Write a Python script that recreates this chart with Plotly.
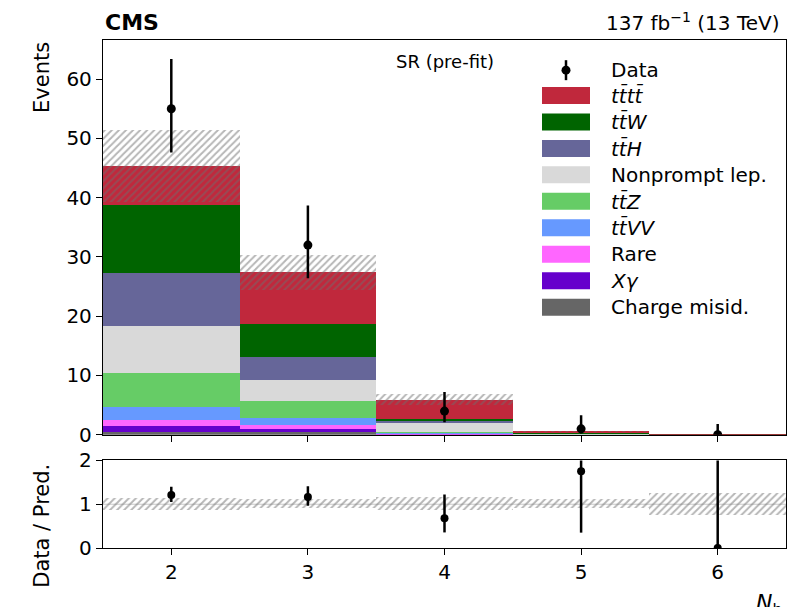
import plotly.graph_objects as go
import numpy as np

# ---------------- data ----------------
nb = [2, 3, 4, 5, 6]
data = [55, 32, 4, 1, 0]
data_err_up = [8.4, 6.7, 3.2, 2.3, 1.8]
data_err_dn = [7.4, 5.6, 1.9, 0.8, 0.0]

# backgrounds, bottom -> top of the stack
charge_misid = [0.45, 0.40, 0.05, 0.00, 0.00]
xgamma = [0.95, 0.55, 0.05, 0.01, 0.00]
rare = [1.13, 0.75, 0.10, 0.02, 0.002]
ttvv = [2.08, 1.20, 0.10, 0.03, 0.002]
ttz = [5.79, 2.80, 0.25, 0.03, 0.004]
nonprompt = [7.90, 3.50, 1.45, 0.05, 0.00]
tth = [9.00, 4.00, 0.35, 0.03, 0.004]
ttw = [11.50, 5.50, 0.35, 0.05, 0.004]
tttt = [6.60, 8.70, 3.20, 0.35, 0.02]
total_unc = [6.1, 2.95, 0.9, 0.06, 0.009]

tick_labels = ["2", "3", "4", "5", "6"]

procs = [
    ("Charge misid.", charge_misid, "#666666"),
    ("<i>Xγ</i>", xgamma, "#6600cc"),
    ("Rare", rare, "#ff66ff"),
    ("<i>tt\u0304VV</i>", ttvv, "#6699ff"),
    ("<i>tt\u0304Z</i>", ttz, "#66cc66"),
    ("Nonprompt lep.", nonprompt, "#d9d9d9"),
    ("<i>tt\u0304H</i>", tth, "#666699"),
    ("<i>tt\u0304W</i>", ttw, "#006400"),
    ("<i>tt\u0304tt\u0304</i>", tttt, "#c0283c"),
]

FONT = "DejaVu Sans"
W, H = 800, 607
L, R, T, B = 103, 14, 40, 58.7
PW = W - L - R
PH = H - T - B


def px2x(px):
    return (px - L) / PW


def px2y(py):
    return (H - B - py) / PH


HATCH = dict(shape="/", fgcolor="#6e6e6e", bgcolor="rgba(0,0,0,0)",
             fillmode="overlay", size=5, solidity=0.4)

fig = go.Figure()

base = np.zeros(len(nb))
for name, vals, col in procs:
    v = np.array(vals, dtype=float)
    fig.add_trace(go.Bar(x=nb, y=v, base=base.copy(), width=1.0, name=name,
                         marker=dict(color=col, line=dict(width=0)),
                         xaxis="x", yaxis="y", showlegend=False))
    base = base + v
total = base

unc = np.array(total_unc)
fig.add_trace(go.Bar(x=nb, y=2 * unc, base=total - unc, width=1.0,
                     marker=dict(color="rgba(0,0,0,0)", line=dict(width=0), pattern=HATCH),
                     xaxis="x", yaxis="y", showlegend=False, hoverinfo="skip"))

fig.add_trace(go.Scatter(x=nb, y=data, mode="markers",
                         marker=dict(color="black", size=9),
                         error_y=dict(type="data", array=data_err_up, arrayminus=data_err_dn,
                                      symmetric=False, color="black", thickness=2.5, width=0),
                         xaxis="x", yaxis="y", showlegend=False))

# ---------------- ratio ----------------
rel = unc / total
fig.add_trace(go.Bar(x=nb, y=2 * rel, base=1 - rel, width=1.0,
                     marker=dict(color="rgba(0,0,0,0)", line=dict(width=0), pattern=HATCH),
                     xaxis="x2", yaxis="y2", showlegend=False, hoverinfo="skip"))

ratio = np.array(data) / total
r_up = np.array(data_err_up) / total
r_dn = np.array(data_err_dn) / total
fig.add_trace(go.Scatter(x=nb, y=ratio, mode="markers",
                         marker=dict(color="black", size=8),
                         error_y=dict(type="data", array=r_up, arrayminus=r_dn,
                                      symmetric=False, color="black", thickness=2.5, width=0),
                         xaxis="x2", yaxis="y2", showlegend=False))

fig.add_shape(type="line", xref="x2 domain", yref="y2", x0=0, x1=1, y0=1, y1=1,
              line=dict(color="#c8c8c8", width=1), layer="below")

axis_common = dict(showline=True, linecolor="black", linewidth=1.3, mirror=True,
                   ticks="outside", ticklen=6, tickwidth=1.2, tickcolor="black",
                   showgrid=False, zeroline=False,
                   tickfont=dict(family=FONT, size=20, color="black"))

fig.update_layout(
    width=W, height=H,
    margin=dict(l=L, r=R, t=T, b=B),
    paper_bgcolor="white", plot_bgcolor="white",
    barmode="overlay", bargap=0,
    font=dict(family=FONT, color="black"),
    xaxis=dict(domain=[0, 1], anchor="y", range=[1.5, 6.5], tickvals=nb,
               showticklabels=False, matches="x2", **axis_common),
    yaxis=dict(domain=[px2y(435), 1], anchor="x", range=[0, 66.6],
               tickvals=[0, 10, 20, 30, 40, 50, 60], **axis_common),
    xaxis2=dict(domain=[0, 1], anchor="y2", range=[1.5, 6.5], tickvals=nb,
                ticktext=tick_labels, **axis_common),
    yaxis2=dict(domain=[0, px2y(460.7)], anchor="x2", range=[0, 2],
                tickvals=[0, 1, 2], **axis_common),
)

ann = []
ann.append(dict(text="<b>CMS</b>", x=0, y=px2y(22), xanchor="left", yanchor="middle",
                font=dict(size=22, family=FONT)))
ann.append(dict(text="137 fb<sup>\u22121</sup> (13 TeV)", x=px2x(782), y=px2y(22),
                xanchor="right", yanchor="middle", font=dict(size=20, family=FONT)))
ann.append(dict(text="SR (pre-fit)", x=px2x(445), y=px2y(62), xanchor="center",
                yanchor="middle", font=dict(size=18, family=FONT)))
ann.append(dict(text="Events", x=px2x(42), y=px2y(78), xanchor="center", yanchor="middle",
                textangle=-90, font=dict(size=21, family=FONT)))
ann.append(dict(text="Data / Pred.", x=px2x(42), y=px2y(526), xanchor="center",
                yanchor="middle", textangle=-90, font=dict(size=21, family=FONT)))
ann.append(dict(text="<i>N</i><sub>b</sub>", x=px2x(784), y=px2y(588), xanchor="right",
                yanchor="top", font=dict(size=22, family=FONT)))

# ---------------- legend (drawn) ----------------
shapes = []
leg_text_x = px2x(609)
data_y = 70.2
shapes.append(dict(type="line", xref="paper", yref="paper", x0=px2x(566), x1=px2x(566),
                   y0=px2y(data_y - 10), y1=px2y(data_y + 10), line=dict(color="black", width=2.5)))
shapes.append(dict(type="circle", xref="paper", yref="paper", x0=px2x(566 - 4.5), x1=px2x(566 + 4.5),
                   y0=px2y(data_y + 4.5), y1=px2y(data_y - 4.5), fillcolor="black",
                   line=dict(color="black", width=0)))
ann.append(dict(text="Data", x=leg_text_x, y=px2y(data_y), xanchor="left", yanchor="middle",
                font=dict(size=20, family=FONT)))

leg_items = list(reversed(procs))
y0 = 95.5
step = 26.48
for i, (name, vals, col) in enumerate(leg_items):
    yc = y0 + i * step
    shapes.append(dict(type="rect", xref="paper", yref="paper", x0=px2x(542), x1=px2x(590),
                       y0=px2y(yc + 8.5), y1=px2y(yc - 8.5), fillcolor=col,
                       line=dict(width=0)))
    ann.append(dict(text=name, x=leg_text_x, y=px2y(yc), xanchor="left", yanchor="middle",
                    font=dict(size=20, family=FONT)))

for a in ann:
    a.update(xref="paper", yref="paper", showarrow=False)
fig.update_layout(annotations=ann)
for s in shapes:
    fig.add_shape(**s)

fig.write_html("out.html", config={"displayModeBar": False},
               post_script="document.body.style.margin='0';document.body.style.padding='0';")
